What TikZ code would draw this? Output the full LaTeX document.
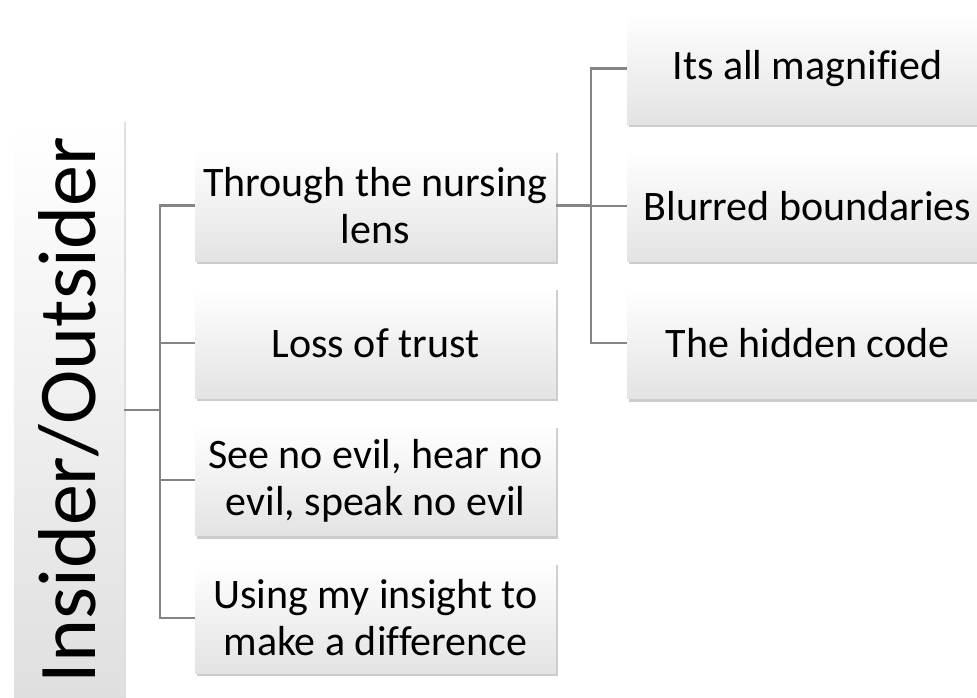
\documentclass[tikz,border=0pt]{standalone}
\usepackage{fontspec}
\setmainfont[Ligatures=CommonOff]{Carlito}
\usepackage{tikz}
\usetikzlibrary{positioning, shadows}
\definecolor{linkgray}{HTML}{858585}

\begin{document}
\begin{tikzpicture}[
  x=1pt, y=1pt,
  leaf/.style={rectangle, minimum width=361pt, minimum height=111pt, inner sep=0pt,
    align=center, font=\fontsize{42}{47}\selectfont,
    top color=white, middle color=white, bottom color=gray!22,
    drop shadow={shadow xshift=2pt, shadow yshift=-3pt, opacity=0.4}},
  rootbox/.style={rectangle, minimum width=576pt, minimum height=110pt, inner sep=0pt,
    rotate=90, font=\fontsize{82}{90}\selectfont,
    top color=white, middle color=white, bottom color=gray!25,
    drop shadow={shadow xshift=2pt, shadow yshift=0pt, opacity=0.25}},
  conn/.style={draw=linkgray, line width=2.2pt},
  node distance=26pt
]
\useasboundingbox (0,0) rectangle (977,-697);

% root
\node[rootbox] (root) at (69,-410) {Insider/Outsider};

% first level
\node[leaf] (c1) at (375.5,-205.5) {Through the nursing\\lens};
\node[leaf, below=of c1] (c2) {Loss of trust};
\node[leaf, below=of c2] (c3) {See no evil, hear no\\evil, speak no evil};
\node[leaf, below=of c3] (c4) {Using my insight to\\make a difference};

% second level
\node[leaf] (g1) at (807.5,-68.5) {Its all magnified};
\node[leaf, below=of g1] (g2) {Blurred boundaries};
\node[leaf, below=of g2] (g3) {The hidden code};

\foreach \c in {c1,c2,c3,c4}
  \draw[conn] (root.south) -- ++(36,0) |- (\c.west);
\foreach \g in {g1,g2,g3}
  \draw[conn] (c1.east) -- ++(35,0) |- (\g.west);
\end{tikzpicture}
\end{document}
